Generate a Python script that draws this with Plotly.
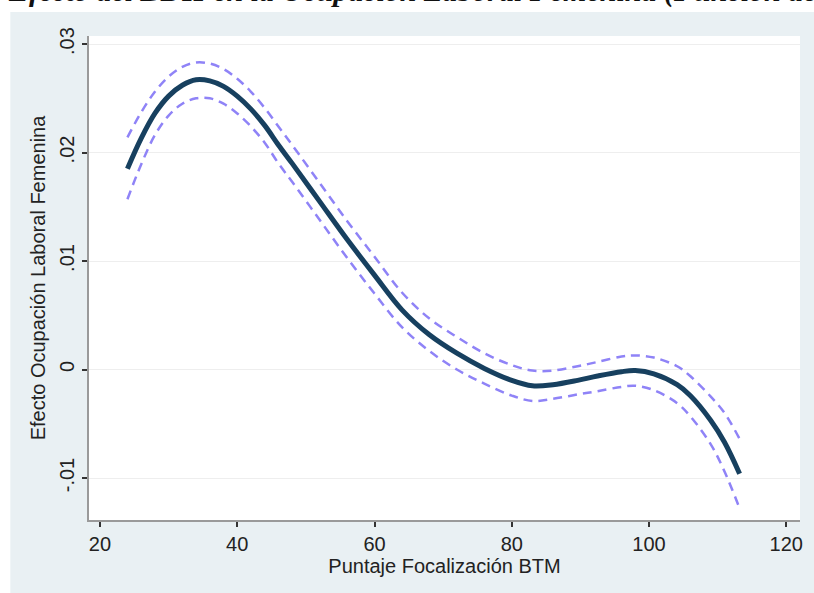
import plotly.graph_objects as go

# ---- data ----
x_vals = [24, 26, 28, 30, 32, 34, 36, 38, 40, 42, 44, 46, 48, 52, 56, 60, 64, 68, 72,
          76, 80, 83, 86, 89.6, 92.5, 96, 98, 100.7, 104.1, 106, 109, 111, 113.2]
effect = [0.0185, 0.0213, 0.0236, 0.0252, 0.0262, 0.0267, 0.0266, 0.0261, 0.0252, 0.0240,
          0.0225, 0.0207, 0.0190, 0.0155, 0.0120, 0.0087, 0.0055, 0.0032, 0.0015,
          0.0001, -0.0010, -0.0015, -0.0014, -0.0010, -0.0006, -0.0002, -0.0001, -0.0004,
          -0.0014, -0.0024, -0.0047, -0.0067, -0.0096]
upper = [0.0214, 0.0237, 0.0256, 0.0270, 0.0279, 0.0283, 0.0282, 0.0277, 0.0268, 0.0256,
         0.0241, 0.0224, 0.0207, 0.0172, 0.0137, 0.0104, 0.0071, 0.0047, 0.0030,
         0.0015, 0.0004, -0.0001, -0.0001, 0.0003, 0.0007, 0.0012, 0.0013, 0.0011,
         0.0003, -0.0006, -0.0025, -0.0040, -0.0064]
lower = [0.0157, 0.0189, 0.0216, 0.0234, 0.0245, 0.0250, 0.0250, 0.0245, 0.0236, 0.0224,
         0.0209, 0.0190, 0.0173, 0.0138, 0.0103, 0.0070, 0.0039, 0.0017, 0.0000,
         -0.0013, -0.0024, -0.0029, -0.0027, -0.0023, -0.0020, -0.0016, -0.0015, -0.0019,
         -0.0031, -0.0043, -0.0069, -0.0094, -0.0128]

y_ticks = [-0.01, 0, 0.01, 0.02, 0.03]
y_tick_labels = ["-.01", "0", ".01", ".02", ".03"]
x_ticks = [20, 40, 60, 80, 100, 120]
x_tick_labels = ["20", "40", "60", "80", "100", "120"]

title_text = "Efecto del BDH en la Ocupación Laboral Femenina (Función de Regresión)"
x_title = "Puntaje Focalización BTM"
y_title = "Efecto Ocupación Laboral Femenina"

# ---- figure ----
W, H = 814, 593
ML, MR, MT, MB = 89, 11, 36, 73
PW, PH = W - ML - MR, H - MT - MB


def px_to_paper_x(px):
    return (px - ML) / PW


def px_to_paper_y(py):
    return 1 + (MT - py) / PH


BG = "#E9F0F3"
ci_color = "#8F83F7"
main_color = "#17405F"

fig = go.Figure()
fig.add_trace(go.Scatter(x=x_vals, y=upper, mode="lines",
                         line=dict(color=ci_color, width=2.5, dash="9px,6px", shape="spline"),
                         showlegend=False, hoverinfo="skip"))
fig.add_trace(go.Scatter(x=x_vals, y=lower, mode="lines",
                         line=dict(color=ci_color, width=2.5, dash="9px,6px", shape="spline"),
                         showlegend=False, hoverinfo="skip"))
fig.add_trace(go.Scatter(x=x_vals, y=effect, mode="lines",
                         line=dict(color=main_color, width=5, shape="spline"),
                         showlegend=False))

font_family = "Liberation Sans, Arial, sans-serif"
FS = 20

fig.update_layout(
    width=W, height=H,
    margin=dict(l=ML, r=MR, t=MT, b=MB, pad=0),
    paper_bgcolor=BG,
    plot_bgcolor="white",
    font=dict(family=font_family, size=FS, color="#222222"),
    xaxis=dict(
        range=[18.4, 122.0], tickvals=x_ticks, ticktext=x_tick_labels,
        showgrid=False, zeroline=False,
        showline=True, linecolor="#9a9a9a", linewidth=1.5,
        ticks="outside", ticklen=5, tickcolor="#333333", tickwidth=1.5,
        tickfont=dict(size=FS, color="#222222"),
        title=dict(text=x_title, font=dict(size=FS, color="#222222"), standoff=2),
    ),
    yaxis=dict(
        range=[-0.01387, 0.03074], tickvals=y_ticks, ticktext=y_tick_labels,
        tickangle=-90,
        showgrid=True, gridcolor="#EEEEEE", gridwidth=1,
        zeroline=False,
        showline=True, linecolor="#9a9a9a", linewidth=1.5,
        ticks="outside", ticklen=5, tickcolor="#333333", tickwidth=1.5,
        tickfont=dict(size=FS, color="#222222"),
        title=dict(text=y_title, font=dict(size=FS, color="#222222"), standoff=5),
    ),
    shapes=[
        dict(type="rect", xref="paper", yref="paper", layer="below",
             x0=px_to_paper_x(-5), x1=px_to_paper_x(W + 5),
             y0=px_to_paper_y(12), y1=px_to_paper_y(-5),
             fillcolor="white", line=dict(width=0)),
        dict(type="rect", xref="paper", yref="paper", layer="below",
             x0=px_to_paper_x(-5), x1=px_to_paper_x(10),
             y0=px_to_paper_y(H + 5), y1=px_to_paper_y(-5),
             fillcolor="white", line=dict(width=0)),
    ],
    annotations=[
        dict(text="<b><i>" + title_text + "</i></b>", xref="paper", yref="paper",
             x=px_to_paper_x(6), y=px_to_paper_y(10), xanchor="left", yanchor="bottom",
             showarrow=False,
             font=dict(family="Liberation Serif, Times New Roman, serif", size=30, color="#111111")),
    ],
)

fig.write_html("out.html")
